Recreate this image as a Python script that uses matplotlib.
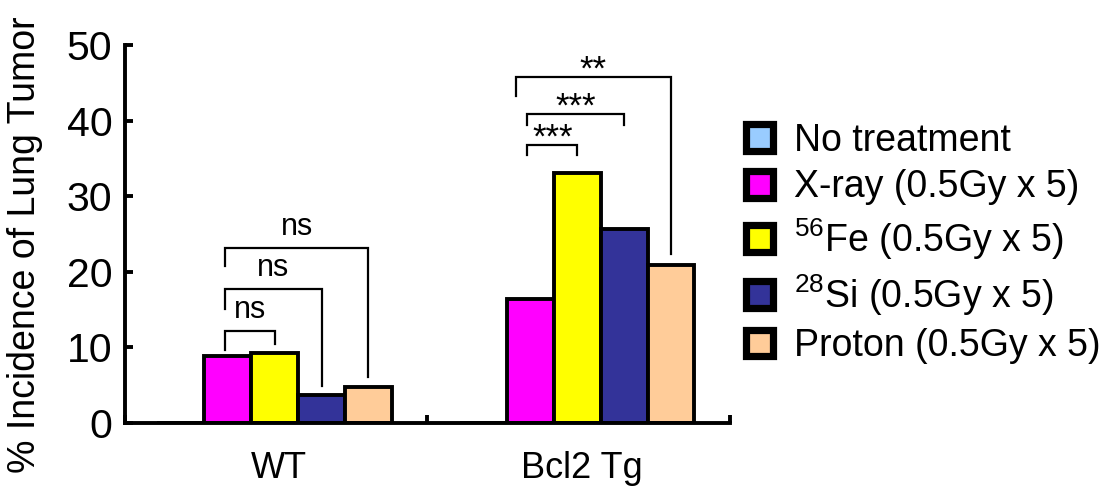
import numpy as np
import matplotlib.pyplot as plt
from matplotlib.patches import Patch

plt.rcParams['font.family'] = ['Liberation Sans', 'DejaVu Sans']
plt.rcParams['mathtext.fontset'] = 'custom'
plt.rcParams['mathtext.rm'] = 'Liberation Sans'

groups = ['WT', 'Bcl2 Tg']
treatments = ['No treatment', 'X-ray (0.5Gy x 5)', '$^{56}$Fe (0.5Gy x 5)',
              '$^{28}$Si (0.5Gy x 5)', 'Proton (0.5Gy x 5)']
colors = ['#99CCFF', '#FF00FF', '#FFFF00', '#333399', '#FFCC99']
# % incidence, one row per group
wt = [0.0, 8.8, 9.3, 3.7, 4.7]
bcl2 = [0.0, 16.4, 33.1, 25.7, 20.9]
values = np.array([wt, bcl2])

# brackets: group, bar i, bar j, top y, left leg end, right leg end, label
brackets = [
    (0, 1, 2, 12.2, 9.6, 10.5, 'ns'),
    (0, 1, 3, 17.7, 15.1, 4.9, 'ns'),
    (0, 1, 4, 23.1, 20.8, 6.1, 'ns'),
    (1, 1, 2, 36.8, 35.4, 35.4, '***'),
    (1, 1, 3, 40.9, 39.4, 39.4, '***'),
    (1, 0.75, 4, 45.8, 43.2, 22.3, '**'),
]

fig = plt.figure(figsize=(11.04, 4.87), dpi=100)
ax = fig.add_axes([0.1132, 0.1314, 0.548, 0.776])

w = 0.155
offsets = (np.arange(5) - 2) * w
centers = np.arange(len(groups)) + 0.495
for k in range(5):
    ax.bar(centers + offsets[k], values[:, k], width=w, color=colors[k],
           edgecolor='black', linewidth=2.8, zorder=2)

for g, i, j, top, lb, rb, lab in brackets:
    x1 = centers[g] + (i - 2) * w - 0.01
    x2 = centers[g] + (j - 2) * w
    ax.plot([x1, x1, x2, x2], [lb, top, top, rb], color='black', lw=1.6,
            solid_joinstyle='miter', zorder=3)
    if lab == 'ns':
        ax.text((x1 + x2) / 2, top + 0.8, lab, ha='center', va='bottom', fontsize=22)
    else:
        ax.text((x1 + x2) / 2, top - 1.3, lab, ha='center', va='bottom', fontsize=25)

ax.set_xlim(0, 2)
ax.set_ylim(0, 50)
ax.set_yticks(np.arange(0, 51, 10))
ax.set_xticks([0, 1, 2])
ax.set_xticklabels([])
ax.set_xticks(centers + 0.015, minor=True)
ax.set_xticklabels(groups, minor=True)
ax.tick_params(axis='x', which='minor', length=0, labelsize=26, pad=20)
ax.tick_params(axis='x', which='major', direction='in', length=6, width=2.8)
ax.tick_params(axis='y', direction='in', length=6, width=2.8, labelsize=29.5, pad=9)
for s in ['top', 'right']:
    ax.spines[s].set_visible(False)
for s in ['left', 'bottom']:
    ax.spines[s].set_linewidth(2.8)
ax.spines['left'].set_bounds(0, 50)
ax.set_ylabel('% Incidence of Lung Tumor', fontsize=27)
ax.yaxis.set_label_coords(-0.135, 0.472)

handles = [Patch(facecolor=c, edgecolor='black', linewidth=5.2) for c in colors]
ax.legend(handles, treatments, loc='center left', bbox_to_anchor=(1.027, 0.475),
          frameon=False, fontsize=27, handlelength=0.72, handleheight=0.72,
          handletextpad=0.55, labelspacing=0.28, borderpad=0, borderaxespad=0)

fig.savefig('out.png', dpi=100)
